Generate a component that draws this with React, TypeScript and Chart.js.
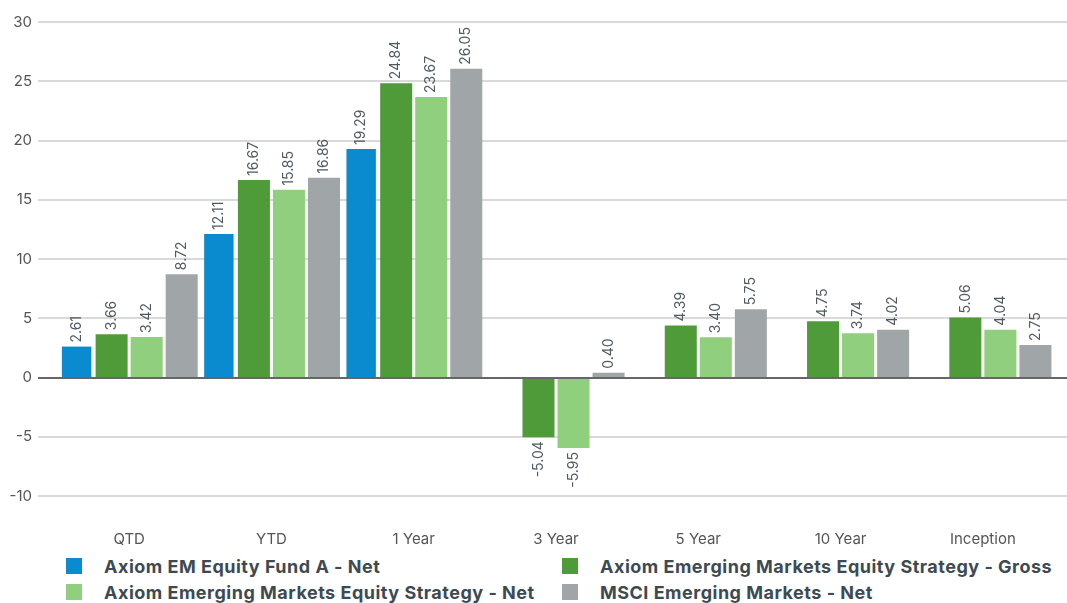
import React, { useEffect, useRef } from "react";
import { Chart, registerables } from "chart.js";

Chart.register(...registerables);

const categories = ["QTD", "YTD", "1 Year", "3 Year", "5 Year", "10 Year", "Inception"];
const seriesNames = [
  "Axiom EM Equity Fund A - Net",
  "Axiom Emerging Markets Equity Strategy - Gross",
  "Axiom Emerging Markets Equity Strategy - Net",
  "MSCI Emerging Markets - Net",
];
const fundNet: (number | null)[] = [2.61, 12.11, 19.29, null, null, null, null];
const strategyGross: (number | null)[] = [3.66, 16.67, 24.84, -5.04, 4.39, 4.75, 5.06];
const strategyNet: (number | null)[] = [3.42, 15.85, 23.67, -5.95, 3.4, 3.74, 4.04];
const msciNet: (number | null)[] = [8.72, 16.86, 26.05, 0.4, 5.75, 4.02, 2.75];
const colors = ["#0b8bcf", "#4f9b39", "#90cf7d", "#a0a6a8"];
const yMin = -10;
const yMax = 30;
const yStep = 5;

const FONT = "Inter, 'Noto Sans', sans-serif";
const GRID_LEFT = 38;

const gridPlugin = {
  id: "customGrid",
  beforeDatasetsDraw(chart: any) {
    const ctx = chart.ctx;
    const y = chart.scales.y;
    ctx.save();
    ctx.strokeStyle = "#cccccc";
    ctx.lineWidth = 1.5;
    y.ticks.forEach((t: any) => {
      if (t.value === 0) return;
      const py = Math.round(y.getPixelForValue(t.value));
      ctx.beginPath();
      ctx.moveTo(GRID_LEFT, py);
      ctx.lineTo(chart.width, py);
      ctx.stroke();
    });
    ctx.restore();
  },
  afterDatasetsDraw(chart: any) {
    const ctx = chart.ctx;
    const y = chart.scales.y;
    const py = Math.round(y.getPixelForValue(0));
    ctx.save();
    ctx.strokeStyle = "#666666";
    ctx.lineWidth = 2.2;
    ctx.beginPath();
    ctx.moveTo(GRID_LEFT, py);
    ctx.lineTo(chart.width, py);
    ctx.stroke();
    ctx.restore();
  },
};

const labelPlugin = {
  id: "barLabels",
  afterDatasetsDraw(chart: any) {
    const ctx = chart.ctx;
    ctx.save();
    ctx.font = `14px ${FONT}`;
    ctx.fillStyle = "#4f5a62";
    chart.data.datasets.forEach((ds: any, di: number) => {
      const meta = chart.getDatasetMeta(di);
      meta.data.forEach((bar: any, i: number) => {
        const v = ds.data[i];
        if (v === null || v === undefined) return;
        const txt = v.toFixed(2);
        ctx.save();
        if (v >= 0) {
          ctx.translate(bar.x, bar.y - 4);
          ctx.rotate(-Math.PI / 2);
          ctx.textAlign = "left";
        } else {
          ctx.translate(bar.x, bar.y + 4);
          ctx.rotate(-Math.PI / 2);
          ctx.textAlign = "right";
        }
        ctx.textBaseline = "middle";
        ctx.fillText(txt, 0, 0);
        ctx.restore();
      });
    });
    ctx.restore();
  },
};

export default function App() {
  const ref = useRef<HTMLCanvasElement>(null);
  useEffect(() => {
    if (!ref.current) return;
    const all = [fundNet, strategyGross, strategyNet, msciNet];
    const chart = new Chart(ref.current, {
      type: "bar",
      data: {
        labels: categories,
        datasets: all.map((d, i) => ({
          label: seriesNames[i],
          data: d,
          backgroundColor: colors[i],
          borderWidth: 0,
          categoryPercentage: 0.985,
          barPercentage: i === 0 ? 0.84 : 0.914,
        })),
      },
      options: {
        responsive: false,
        animation: false,
        maintainAspectRatio: false,
        layout: { padding: { top: 22, right: 13, left: 0, bottom: 0 } },
        plugins: { legend: { display: false }, tooltip: { enabled: false } },
        scales: {
          x: {
            grid: { display: false },
            border: { display: false },
            ticks: { font: { family: FONT, size: 15 }, color: "#555", padding: 26 },
            afterFit: (s: any) => {
              s.height = 54;
            },
          },
          y: {
            min: yMin,
            max: yMax,
            border: { display: false },
            grid: { display: false, drawTicks: false },
            ticks: {
              stepSize: yStep,
              font: { family: FONT, size: 15 },
              color: "#555",
              padding: 26,
            },
            afterFit: (s: any) => {
              s.width = 58;
              s.paddingTop = 0;
              s.paddingBottom = 0;
            },
          },
        },
      },
      plugins: [gridPlugin, labelPlugin],
    });
    return () => chart.destroy();
  }, []);

  const legendItem = (i: number, left: number, top: number) => (
    <div
      key={i}
      style={{ position: "absolute", left, top, display: "flex", alignItems: "center", height: 16 }}
    >
      <div style={{ width: 16, height: 16, background: colors[i], marginRight: 22, flex: "none" }} />
      <span
        style={{
          fontFamily: FONT,
          fontWeight: 700,
          fontSize: 18,
          letterSpacing: 0.5,
          color: "#3e4a52",
          whiteSpace: "nowrap",
        }}
      >
        {seriesNames[i]}
      </span>
    </div>
  );

  return (
    <div style={{ position: "absolute", left: 0, top: 0, width: 1067, height: 603, background: "#fff", overflow: "hidden" }}>
      <canvas ref={ref} width={1067} height={550} style={{ position: "absolute", left: 0, top: 0 }} />
      {legendItem(0, 66, 558)}
      {legendItem(1, 562, 558)}
      {legendItem(2, 66, 584)}
      {legendItem(3, 562, 584)}
    </div>
  );
}
